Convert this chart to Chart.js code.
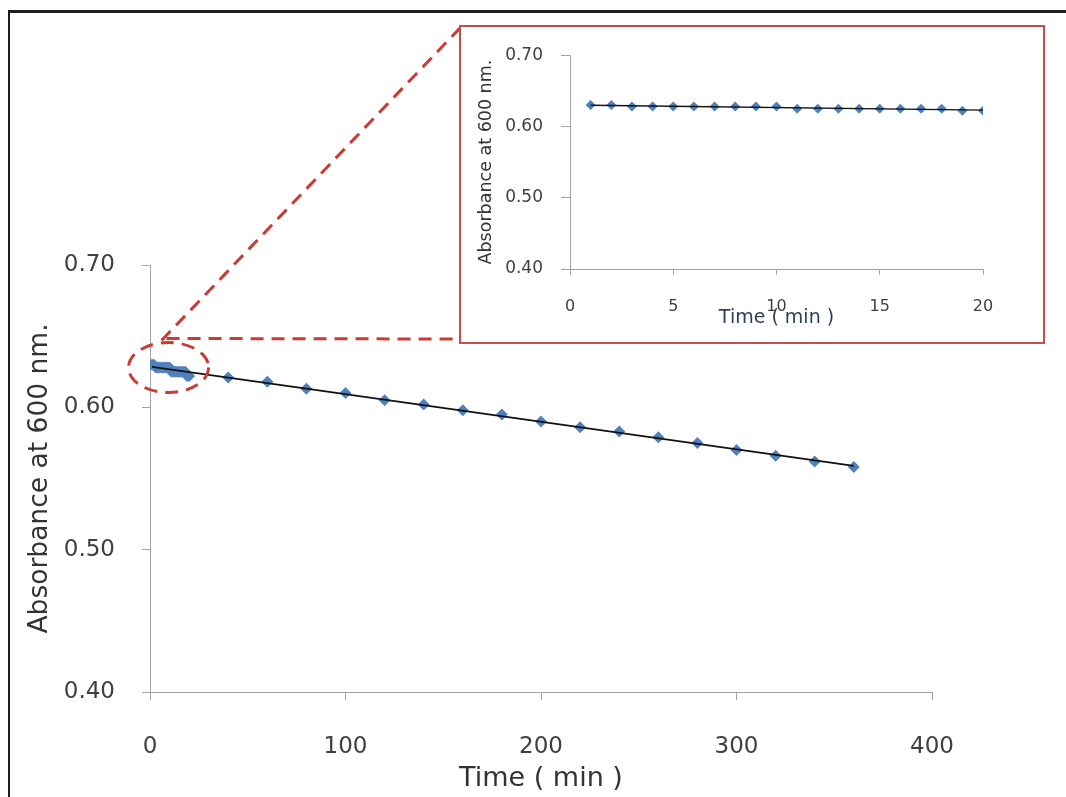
<!DOCTYPE html>
<html>
<head>
<meta charset="utf-8">
<script src="https://cdn.jsdelivr.net/npm/chart.js@4.4.1/dist/chart.umd.min.js"></script>
<style>
  html, body { margin: 0; padding: 0; background: #fff; }
  body { width: 1066px; height: 797px; position: relative; overflow: hidden; }
  #frame { position: absolute; left: 8px; top: 10px; width: 1100px; height: 800px;
           border-top: 3px solid #1e1e1e; border-left: 2px solid #1e1e1e; box-sizing: border-box; }
  #main { position: absolute; left: 0; top: 0; }
  #inset { position: absolute; left: 459px; top: 25px; width: 586px; height: 319px;
           border: 2px solid #c0504d; box-sizing: border-box; background: #fff; }
  #insetCanvas { position: absolute; left: 0; top: 0; }
</style>
</head>
<body>
<div id="frame"></div>
<canvas id="main" width="1066" height="797"></canvas>
<div id="inset"><canvas id="insetCanvas" width="582" height="315"></canvas></div>
<script>
// Absorbance readings during the first 20 minutes (1-min interval)
const earlyTimes = [1, 2, 3, 4, 5, 6, 7, 8, 9, 10, 11, 12, 13, 14, 15, 16, 17, 18, 19, 20];
const earlyAbs   = [0.630, 0.630, 0.628, 0.628, 0.628, 0.628, 0.628, 0.628, 0.628, 0.628,
                    0.625, 0.625, 0.625, 0.625, 0.625, 0.625, 0.625, 0.625, 0.622, 0.622];

// Absorbance readings from 40 to 360 min (20-min interval)
const lateTimes = [40, 60, 80, 100, 120, 140, 160, 180, 200, 220, 240, 260, 280, 300, 320, 340, 360];
const lateAbs   = [0.621, 0.618, 0.613, 0.610, 0.605, 0.602, 0.598, 0.595, 0.590,
                   0.586, 0.583, 0.579, 0.575, 0.570, 0.566, 0.562, 0.558];

// Axis ticks
const mainTimeTicks  = [0, 100, 200, 300, 400];
const insetTimeTicks = [0, 5, 10, 15, 20];
const absTicks       = [0.40, 0.50, 0.60, 0.70];

const yTitle = 'Absorbance at 600 nm.';
const xTitle = 'Time ( min )';

const MARKER = '#4f81bd';
const AXIS = '#a3a3a3';
const TEXT = '#404040';

function toPoints(xs, ys) { return xs.map((x, i) => ({ x: x, y: ys[i] })); }

// Least-squares linear fit, drawn as a two-point trend line
function trend(xs, ys) {
  const n = xs.length;
  let sx = 0, sy = 0, sxx = 0, sxy = 0;
  for (let i = 0; i < n; i++) { sx += xs[i]; sy += ys[i]; sxx += xs[i] * xs[i]; sxy += xs[i] * ys[i]; }
  const b = (n * sxy - sx * sy) / (n * sxx - sx * sx);
  const a = (sy - b * sx) / n;
  const x0 = Math.min(...xs), x1 = Math.max(...xs);
  return [{ x: x0, y: a + b * x0 }, { x: x1, y: a + b * x1 }];
}

function axis(ticks, min, max, opts) {
  return {
    type: 'linear', min: min, max: max,
    afterBuildTicks: s => { s.ticks = ticks.map(v => ({ value: v })); },
    afterFit: s => { if (opts.width != null) s.width = opts.width; if (opts.height != null) s.height = opts.height; },
    grid: { drawOnChartArea: false, drawTicks: true, tickLength: opts.tickLength, tickColor: AXIS, lineWidth: 1 },
    border: { display: true, color: AXIS, width: 1 },
    ticks: {
      color: TEXT, padding: opts.tickPad, maxRotation: 0, autoSkip: false,
      font: { family: 'DejaVu Sans', size: opts.tickSize },
      callback: v => opts.decimals ? Number(v).toFixed(2) : String(v)
    },
    title: {
      display: true, text: opts.title, color: opts.titleColor || '#333',
      font: { family: 'DejaVu Sans', size: opts.titleSize },
      padding: opts.titlePad
    }
  };
}

// Dashed callout: ellipse round the early cluster, lines leading to the inset box
const calloutPlugin = {
  id: 'callout',
  afterDraw(chart) {
    const { ctx, scales } = chart;
    const cx = scales.x.getPixelForValue(10);
    const cy = scales.y.getPixelForValue(0.628);
    const box = document.getElementById('inset').getBoundingClientRect();
    ctx.save();
    ctx.strokeStyle = '#cc3a33';
    ctx.lineWidth = 3;
    ctx.setLineDash([13, 8]);
    ctx.beginPath();
    ctx.ellipse(cx - 1, cy, 40, 25, 0, 0, Math.PI * 2);
    ctx.stroke();
    ctx.beginPath();
    ctx.moveTo(cx - 3, cy - 29);
    ctx.lineTo(box.left, box.bottom - 5);
    ctx.stroke();
    ctx.beginPath();
    ctx.moveTo(cx - 8, cy - 27);
    ctx.lineTo(box.left + 2, box.top + 2);
    ctx.stroke();
    ctx.restore();
  }
};

const allTimes = earlyTimes.concat(lateTimes);
const allAbs = earlyAbs.concat(lateAbs);

new Chart(document.getElementById('main'), {
  type: 'scatter',
  data: {
    datasets: [
      { type: 'line', data: trend(allTimes, allAbs), borderColor: '#111', borderWidth: 1.6,
        pointRadius: 0, fill: false, order: 0 },
      { data: toPoints(allTimes, allAbs), pointStyle: 'rectRot', pointRadius: 6,
        backgroundColor: MARKER, borderColor: MARKER, borderWidth: 0, order: 1 }
    ]
  },
  options: {
    responsive: false, animation: false, events: [],
    layout: { padding: { left: 0, top: 265, right: 134, bottom: 0 } },
    plugins: { legend: { display: false }, tooltip: { enabled: false } },
    scales: {
      x: axis(mainTimeTicks, 0, 400, { height: 105, tickLength: 8, tickPad: 33, tickSize: 23,
                                       title: xTitle, titleSize: 27, titlePad: 2 }),
      y: axis(absTicks, 0.4, 0.7, { width: 150, tickLength: 8, tickPad: 27, tickSize: 23, decimals: true,
                                    title: yTitle, titleSize: 26.5, titlePad: 24 })
    }
  },
  plugins: [calloutPlugin]
});

new Chart(document.getElementById('insetCanvas'), {
  type: 'scatter',
  data: {
    datasets: [
      { type: 'line', data: trend(earlyTimes, earlyAbs), borderColor: '#111', borderWidth: 1.4,
        pointRadius: 0, fill: false, order: 0 },
      { data: toPoints(earlyTimes, earlyAbs), pointStyle: 'rectRot', pointRadius: 5,
        backgroundColor: MARKER, borderColor: MARKER, borderWidth: 0, order: 1 }
    ]
  },
  options: {
    responsive: false, animation: false, events: [],
    layout: { padding: { left: 0, top: 24, right: 60, bottom: 0 } },
    plugins: { legend: { display: false }, tooltip: { enabled: false } },
    scales: {
      x: axis(insetTimeTicks, 0, 20, { height: 73, tickLength: 6, tickPad: 22, tickSize: 16,
                                       title: xTitle, titleSize: 19, titlePad: 13, titleColor: '#2b3f5c' }),
      y: axis(absTicks, 0.4, 0.7, { width: 109, tickLength: 9, tickPad: 18, tickSize: 17, decimals: true,
                                    title: yTitle, titleSize: 17.5, titlePad: 15 })
    }
  }
});
</script>
</body>
</html>
